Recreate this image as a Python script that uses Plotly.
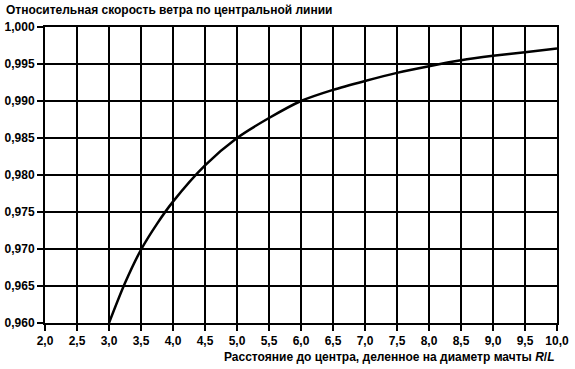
import plotly.graph_objects as go

# Data
ratio_rl = [3.0, 3.25, 3.5, 3.75, 4.0, 4.5, 5.0, 5.5, 6.0, 6.5, 7.0, 7.5, 8.0, 8.5, 9.0, 9.5, 10.0]
rel_speed = [0.9600, 0.9654, 0.9699, 0.9734, 0.9764, 0.9813, 0.9850, 0.9877, 0.9900,
             0.9915, 0.9927, 0.9938, 0.9947, 0.9955, 0.9961, 0.9966, 0.9971]

x_ticks = [2.0, 2.5, 3.0, 3.5, 4.0, 4.5, 5.0, 5.5, 6.0, 6.5, 7.0, 7.5, 8.0, 8.5, 9.0, 9.5, 10.0]
y_ticks = [0.960, 0.965, 0.970, 0.975, 0.980, 0.985, 0.990, 0.995, 1.000]

title_text = "Относительная скорость ветра по центральной линии"
xaxis_text = "Расстояние до центра, деленное на диаметр мачты <i>R</i>/<i>L</i>"

FONT = "Liberation Sans"

fig = go.Figure()
fig.add_trace(go.Scatter(
    x=ratio_rl, y=rel_speed, mode="lines",
    line=dict(color="black", width=2.5, shape="spline", smoothing=0.8),
    hoverinfo="skip", showlegend=False,
))

axis_common = dict(
    showgrid=True, gridcolor="black", gridwidth=2,
    showline=True, linecolor="black", linewidth=2, mirror=True,
    ticks="outside", ticklen=6, tickwidth=2, tickcolor="black",
    zeroline=False, automargin=False,
    tickfont=dict(family=FONT, size=12, color="black", weight="bold"),
)

fig.update_layout(
    width=575, height=369,
    margin=dict(l=45, r=18, t=27, b=46),
    paper_bgcolor="white", plot_bgcolor="white",
    separators=", ",
    xaxis=dict(range=[2.0, 10.0], tickvals=x_ticks, tickformat=".1f", **axis_common),
    yaxis=dict(range=[0.960, 1.000], tickvals=y_ticks, tickformat=".3f", **axis_common),
    annotations=[
        dict(text=title_text, x=0, y=1, xref="paper", yref="paper",
             xanchor="left", yanchor="bottom", xshift=-41, yshift=8, showarrow=False,
             font=dict(family=FONT, size=12, color="black", weight="bold")),
        dict(text=xaxis_text, x=1, y=0, xref="paper", yref="paper",
             xanchor="right", yanchor="top", yshift=-25, showarrow=False,
             font=dict(family=FONT, size=12, color="black", weight="bold")),
    ],
)

fig.write_html(
    "out.html",
    config={"displayModeBar": False},
    post_script="document.body.style.margin='0';document.body.style.overflow='hidden';",
)
